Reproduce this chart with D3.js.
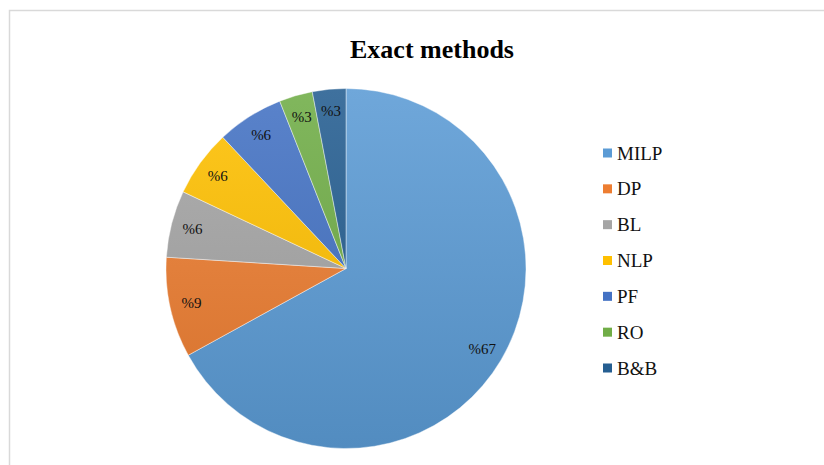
<!DOCTYPE html>
<html><head><meta charset="utf-8">
<script src="https://cdn.jsdelivr.net/npm/d3@7"></script>
<style>html,body{margin:0;padding:0;background:#fff;}svg{display:block;}</style>
</head><body>
<script>
const categories = ["MILP","DP","BL","NLP","PF","RO","B&B"];
const values = [67, 9, 6, 6, 6, 3, 3];
const colors = ["#5B9BD5","#ED7D31","#A5A5A5","#FFC000","#4472C4","#70AD47","#255E91"];
const labels = ["%67","%9","%6","%6","%6","%3","%3"];
const title = "Exact methods";

const W = 824, H = 465;
const svg = d3.select("body").append("svg").attr("width", W).attr("height", H);
const font = "'Liberation Serif','Times New Roman',serif";

svg.append("path").attr("d", `M9.5,${H+5} L9.5,10.5 L${W+5},10.5`)
  .attr("fill","none").attr("stroke","#d9d9d9").attr("stroke-width",1.5);

svg.append("text").attr("x", 432).attr("y", 58).attr("text-anchor","middle")
  .attr("font-family", font).attr("font-weight","bold").attr("font-size", 26)
  .attr("fill","#000").text(title);

const cx = 346, cy = 268.5, r = 180;
const defs = svg.append("defs");
colors.forEach((c,i) => {
  const g = defs.append("linearGradient").attr("id","g"+i)
    .attr("gradientUnits","userSpaceOnUse")
    .attr("x1",0).attr("y1",-r).attr("x2",0).attr("y2",r);
  g.append("stop").attr("offset","0%").attr("stop-color", d3.interpolateRgb(c,"#fff")(0.12));
  g.append("stop").attr("offset","100%").attr("stop-color", d3.interpolateRgb(c,"#000")(0.1));
});

const pie = d3.pie().sort(null).value(d => d)(values);
const arc = d3.arc().innerRadius(0).outerRadius(r);
const labelArc = d3.arc().innerRadius(r*0.88).outerRadius(r*0.88);
const gp = svg.append("g").attr("transform", `translate(${cx},${cy})`);
gp.selectAll("path").data(pie).join("path")
  .attr("d", arc).attr("fill", (d,i) => `url(#g${i})`)
  .attr("stroke","#fff").attr("stroke-width",0.7).attr("stroke-opacity",0.6);
gp.selectAll("text").data(pie).join("text")
  .attr("transform", d => `translate(${labelArc.centroid(d)})`)
  .attr("text-anchor","middle").attr("dy","0.35em")
  .attr("font-family", font).attr("font-size", 15).attr("fill","#111")
  .text((d,i) => labels[i]);

const y = d3.scalePoint().domain(categories).range([153, 368]);
const lg = svg.append("g");
categories.forEach((c,i) => {
  lg.append("rect").attr("x", 603).attr("y", y(c)-4.5).attr("width", 9).attr("height", 9)
    .attr("fill", colors[i]);
  lg.append("text").attr("x", 617).attr("y", y(c)).attr("dy","0.35em")
    .attr("font-family", font).attr("font-size", 19).attr("fill","#111").text(c);
});
</script>
</body></html>
